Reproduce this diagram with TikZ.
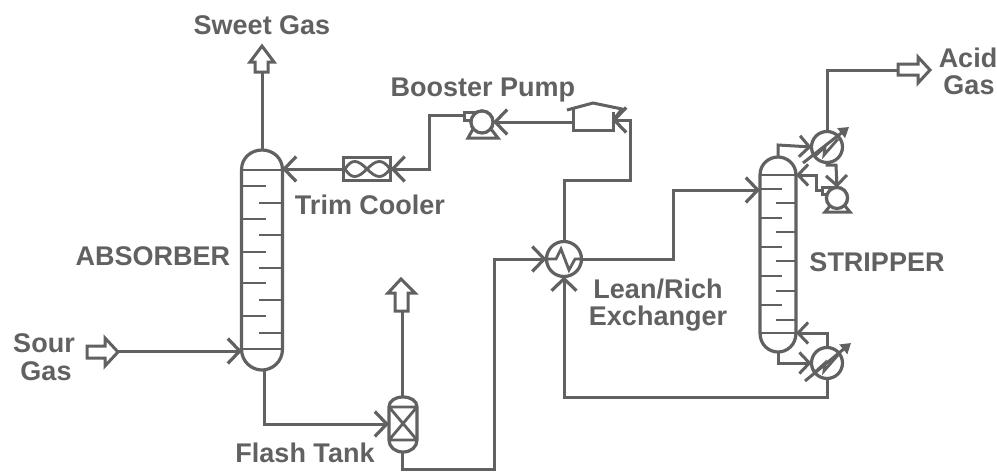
\documentclass[tikz,border=0pt]{standalone}
\usepackage{fontspec}
\setmainfont{Liberation Sans}
\usetikzlibrary{arrows.meta}
\definecolor{ink}{gray}{0.38}
\tikzset{
  pipe/.style={draw=ink,line width=3pt,line join=miter},
  barb/.style={pipe,-{Straight Barb[length=12pt,width=25pt,line width=3.2pt]}},
  small barb/.style={pipe,-{Straight Barb[length=10pt,width=21pt,line width=3pt]}},
  lbl/.style={text=ink,font=\bfseries\fontsize{27}{30}\selectfont,inner sep=0pt},
  vessel/.style={draw=ink,line width=3.2pt},
  blockarrow/.style={draw=ink,line width=3pt,fill=white,line join=miter},
  hx/.style={circle,draw=ink,line width=3.2pt,fill=white,inner sep=0pt,outer sep=0pt},
  trayline/.style={draw=ink,line width=2.8pt}
}
\begin{document}
\begin{tikzpicture}[x=1pt,y=-1pt]
\useasboundingbox[fill=white] (0,0) rectangle (997,472);

% named points
\coordinate (absTop) at (262,150);
\coordinate (absBot) at (264,370);
\coordinate (sweetTail) at (262,72);
\coordinate (sourTail) at (118,351);
\coordinate (absIn) at (242,351);
\coordinate (ventTail) at (402,311);
\coordinate (ftTop) at (402,397);
\coordinate (ftBot) at (402,452);
\coordinate (ftIn) at (389,424);
\coordinate (absRet) at (282,169);
\coordinate (strTop) at (778,157);
\coordinate (strBot) at (778,352);
\coordinate (strFeed) at (760,190);
\coordinate (strRefl) at (796,175);
\coordinate (strReb) at (796,333);
\coordinate (acidTail) at (898,70);
\coordinate (drumOut) at (573,122);
\coordinate (drumIn) at (612,120);
\coordinate (pumpOut) at (464,115);

% equipment nodes
\node[hx,minimum size=35pt] (lean) at (564,259) {};
\node[hx,minimum size=31pt] (cond) at (827,147) {};
\node[hx,minimum size=31pt] (reb) at (827,363) {};
\node[hx,minimum size=22pt] (bp) at (482,122) {};
\node[hx,minimum size=21pt] (rp) at (837,198) {};
\node[draw=ink,line width=3pt,minimum width=47pt,minimum height=23pt,inner sep=0pt,outer sep=0pt] (trim) at (367,169) {};

% absorber
\draw[vessel] (241.5,170) -- (241.5,349) .. controls (241.5,362) and (252,370) .. (262,370) .. controls (272,370) and (282.5,362) .. (282.5,349) -- (282.5,170) .. controls (282.5,157) and (272,150) .. (262,150) .. controls (252,150) and (241.5,157) .. (241.5,170) -- cycle;
\draw[trayline] (241.5,170) -- (282.5,170) (241.5,349) -- (282.5,349);
\foreach \y in {186,219,252,283,316} \draw[trayline] (241.5,\y) -- (266,\y);
\foreach \y in {203,235,268,300,333} \draw[trayline] (259,\y) -- (282.5,\y);

% stripper
\draw[vessel] (760,175) -- (760,333) .. controls (760,345) and (769,352) .. (778,352) .. controls (787,352) and (796,345) .. (796,333) -- (796,175) .. controls (796,164) and (787,157) .. (778,157) .. controls (769,157) and (760,164) .. (760,175) -- cycle;
\draw[trayline] (760,175) -- (796,175) (760,333) -- (796,333);
\foreach \y in {189,218,247,276,305} \draw[trayline] (760,\y) -- (782,\y);
\foreach \y in {203,232,261,291,320} \draw[trayline] (776,\y) -- (796,\y);

% flash tank
\draw[vessel] (389,407) -- (389,440) .. controls (389,447) and (395,452) .. (403,452) .. controls (411,452) and (417,447) .. (417,440) -- (417,407) .. controls (417,401) and (411,397) .. (403,397) .. controls (395,397) and (389,401) .. (389,407) -- cycle;
\draw[trayline] (389,407) -- (417,407) (389,440) -- (417,440) (389,407) -- (417,440) (417,407) -- (389,440);

% trim cooler bow-tie
\draw[trayline] (345,169) .. controls (352,158) and (358,160) .. (367,169) .. controls (376,178) and (382,180) .. (390,169) .. controls (382,158) and (376,160) .. (367,169) .. controls (358,178) and (352,180) .. (345,169);

% zigzags and diagonals
\draw[trayline] (546,259) -- (556,259) -- (561,249) -- (569,270) -- (575,259) -- (582,259);
\draw[trayline] (815,156) -- (825,147) -- (824,155) -- (838,139);
\draw[trayline] (815,372) -- (825,363) -- (824,371) -- (838,355);
\draw[pipe,-{Triangle[length=10pt,width=12pt]}] (803,163) -- (849,127);
\draw[pipe,-{Triangle[length=10pt,width=12pt]}] (805,381) -- (851,343);

% booster pump body
\draw[pipe,fill=white] (464,112) -- (482,112) -- (482,120) -- (464,120) -- cycle;
\draw[pipe,fill=white] (473,129) -- (468,138) -- (498,138) -- (491,129);
\node[hx,minimum size=22pt] at (482,122) {};
% reflux pump body
\draw[pipe,fill=white] (827,187) -- (836,187) -- (836,194) -- (822,194) -- (822,187) -- cycle;
\draw[pipe,fill=white] (830,206) -- (825,212) -- (850,212) -- (845,206);
\node[hx,minimum size=21pt] at (837,198) {};

% drum
\draw[pipe] (573,109) -- (573,130) -- (613,130) -- (613,112);
\draw[pipe] (567,110) -- (593,103) -- (622,109) -- (615,118);

% connectors
\draw[pipe] (absTop) -- (sweetTail);
\draw[barb] (sourTail) -- (absIn);
\draw[pipe] (ftTop) -- (ventTail);
\draw[barb] (absBot) -- (264,424) -- (ftIn);
\draw[barb] (trim.west) -- (absRet);
\draw[barb] (pumpOut) -- (429,115) -- (429,169) -- (trim.east);
\draw[barb] (drumOut) -- (bp.east);
\draw[barb] (lean.north) -- (564,180) -- (630,180) -- (630,120) -- (drumIn);
\draw[barb] (ftBot) -- (402,469) -- (494,469) -- (494,259) -- (lean.west);
\draw[barb] (lean.east) -- (673,259) -- (673,190) -- (strFeed);
\draw[barb] (reb.south) -- (827,397) -- (564,397) -- (lean.south);
\draw[pipe] (cond.north) -- (827,70) -- (acidTail);
\draw[small barb] (strTop) -- (778,145) -- (cond.west);
\draw[small barb] (cond.south) -- (827,165) -- (836,165) -- (rp.north);
\draw[small barb] (822,190) -- (816,190) -- (816,175) -- (strRefl);
\draw[small barb] (strBot) -- (778,363) -- (reb.west);
\draw[small barb] (reb.north) -- (827,333) -- (strReb);

% open block arrows
\draw[blockarrow] (255,72) -- (255,62) -- (250,62) -- (262,46) -- (274,62) -- (268,62) -- (268,72) -- cycle;
\draw[blockarrow] (395,311) -- (395,293) -- (388,293) -- (401,279) -- (415,293) -- (408,293) -- (408,311) -- cycle;
\draw[blockarrow] (87,346) -- (105,346) -- (105,338) -- (118,352) -- (105,366) -- (105,358) -- (87,358) -- cycle;
\draw[blockarrow] (898,64) -- (918,64) -- (918,57) -- (930,70) -- (918,83) -- (918,75) -- (898,75) -- cycle;

% labels
\node[lbl] (l1) at (262,25) {Sweet Gas};
\node[lbl] (l2) at (483,90) {Booster Pump};
\node[lbl] (l3) at (370,205) {Trim Cooler};
\node[lbl] (l4) at (153,256) {ABSORBER};
\node[lbl] (l5) at (44,343) {Sour};
\node[lbl] (l6) at (46,371) {Gas};
\node[lbl] (l7) at (305,453) {Flash Tank};
\node[lbl] (l8) at (658,289) {Lean/Rich};
\node[lbl] (l9) at (658,319) {Exchanger};
\node[lbl] (l10) at (877,262) {STRIPPER};
\node[lbl] (l11) at (968,58) {Acid};
\node[lbl] (l12) at (969,85) {Gas};
\end{tikzpicture}
\end{document}
